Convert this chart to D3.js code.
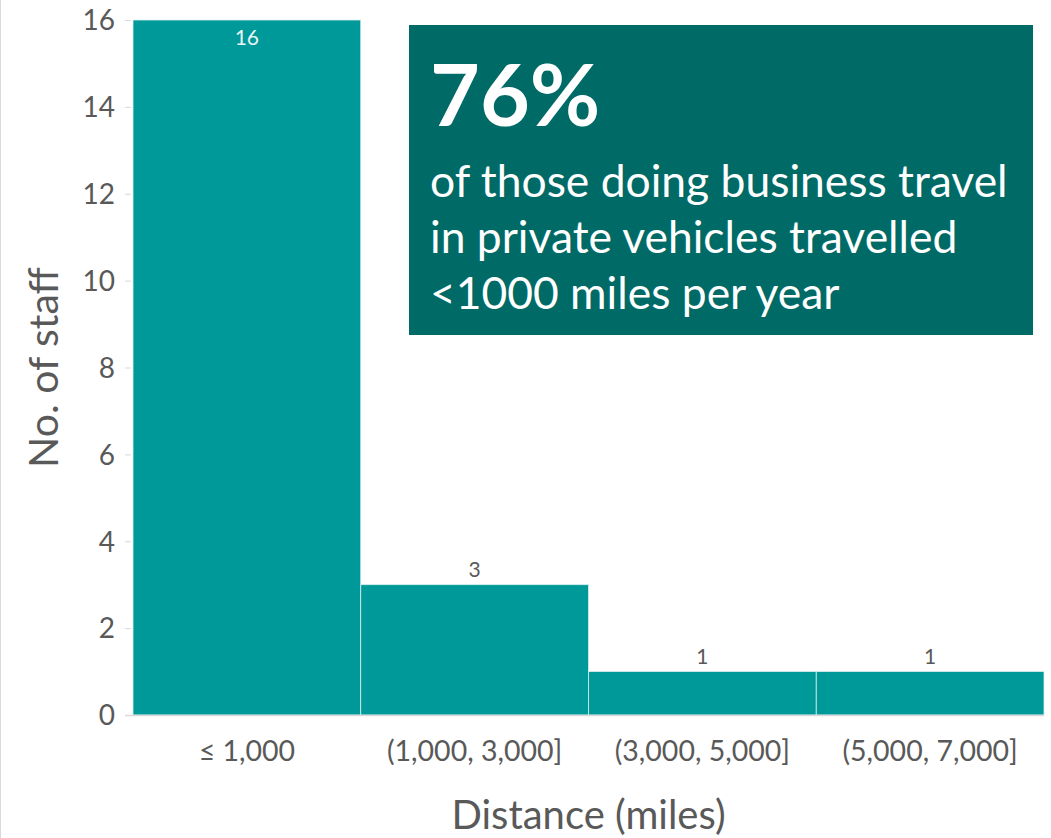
<!DOCTYPE html>
<html>
<head>
<meta charset="utf-8">
<script src="https://cdn.jsdelivr.net/npm/d3@7"></script>
<style>
  html, body { margin: 0; padding: 0; background: #ffffff; }
  svg { display: block; }
  text { font-family: Lato, "Open Sans", sans-serif; }
</style>
</head>
<body>
<svg id="chart" width="1051" height="838"></svg>
<script>
// Distance bands and number of staff in each
const categories = ["\u2264 1,000", "(1,000, 3,000]", "(3,000, 5,000]", "(5,000, 7,000]"];
const staffCounts = [16, 3, 1, 1];
const yTicks = [0, 2, 4, 6, 8, 10, 12, 14, 16];

const headline = "76%";
const calloutLines = [
  "of those doing business travel",
  "in private vehicles travelled",
  "<1000 miles per year"
];

const W = 1051, H = 838;
const margin = { top: 20, right: 7, bottom: 123, left: 133 };
const svg = d3.select("#chart");

// frame edge on the left
svg.append("line")
  .attr("x1", 0.5).attr("x2", 0.5).attr("y1", 0).attr("y2", H)
  .attr("stroke", "#d9d9d9").attr("stroke-width", 1);

const x = d3.scaleBand()
  .domain(categories)
  .range([margin.left, W - margin.right])
  .padding(0);

const y = d3.scaleLinear()
  .domain([0, 16])
  .range([H - margin.bottom, margin.top]);

// bars
svg.append("g").selectAll("rect")
  .data(categories)
  .join("rect")
  .attr("x", d => x(d))
  .attr("y", (d, i) => y(staffCounts[i]))
  .attr("width", x.bandwidth())
  .attr("height", (d, i) => y(0) - y(staffCounts[i]))
  .attr("fill", "#009999")
  .attr("stroke", "#d9eeee")
  .attr("stroke-width", 0.8);

// y axis
const yAxis = svg.append("g")
  .attr("transform", `translate(${margin.left - 2},0)`)
  .call(d3.axisLeft(y).tickValues(yTicks).tickSize(6).tickPadding(10));
yAxis.select(".domain").remove();
yAxis.selectAll(".tick line").attr("stroke", "#d9d9d9");
yAxis.selectAll(".tick text")
  .attr("fill", "#595959")
  .style("font-size", "28px")
  .attr("dy", "0.35em");

// x axis
const xAxis = svg.append("g")
  .attr("transform", `translate(0,${y(0)})`)
  .call(d3.axisBottom(x).tickSize(0).tickPadding(26));
xAxis.select(".domain")
  .attr("stroke", "#d9d9d9")
  .attr("stroke-width", 1.5)
  .attr("d", `M${margin.left - 8},0.5H${W - margin.right}`);
xAxis.selectAll(".tick text")
  .attr("fill", "#595959")
  .style("font-size", "28.5px");

// value labels
svg.append("g").selectAll("text")
  .data(categories)
  .join("text")
  .attr("x", d => x(d) + x.bandwidth() / 2)
  .attr("y", (d, i) => staffCounts[i] === 16 ? y(staffCounts[i]) + 25 : y(staffCounts[i]) - 8)
  .attr("text-anchor", "middle")
  .attr("fill", (d, i) => staffCounts[i] === 16 ? "#e6f5f5" : "#595959")
  .style("font-size", "21px")
  .text((d, i) => staffCounts[i]);

// axis titles
svg.append("text")
  .attr("x", x.range()[0] + (x.range()[1] - x.range()[0]) / 2)
  .attr("y", 829)
  .attr("text-anchor", "middle")
  .attr("fill", "#595959")
  .style("font-size", "40px")
  .text("Distance (miles)");

svg.append("text")
  .attr("transform", `translate(58,${(y(0) + y(16)) / 2}) rotate(-90)`)
  .attr("text-anchor", "middle")
  .attr("fill", "#595959")
  .style("font-size", "41px")
  .text("No. of staff");

// callout box
const box = { x: 409, y: 25, w: 624, h: 310 };
svg.append("rect")
  .attr("x", box.x).attr("y", box.y)
  .attr("width", box.w).attr("height", box.h)
  .attr("fill", "#006a67");

svg.append("text")
  .attr("x", 430).attr("y", 126)
  .attr("fill", "#ffffff")
  .style("font-size", "86px")
  .style("font-weight", "bold")
  .text(headline);

svg.append("g").selectAll("text")
  .data(calloutLines)
  .join("text")
  .attr("x", 430)
  .attr("y", (d, i) => 197 + i * 56)
  .attr("fill", "#ffffff")
  .style("font-size", "44.4px")
  .text(d => d);
</script>
</body>
</html>
